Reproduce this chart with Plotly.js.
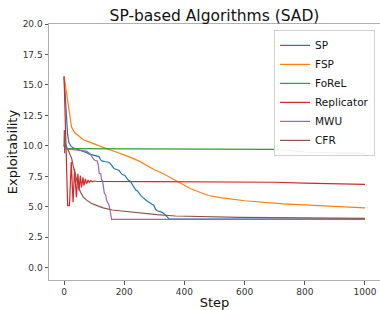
<!DOCTYPE html>
<html>
<head>
<meta charset="utf-8">
<script src="https://cdn.plot.ly/plotly-3.0.1.min.js"></script>
<style>
html,body{margin:0;padding:0;background:#fff;}
#chart{width:380px;height:310px;}
</style>
</head>
<body>
<div id="chart"></div>
<script>
const seriesNames = ["SP", "FSP", "FoReL", "Replicator", "MWU", "CFR"];
const seriesColors = ["#1f77b4", "#ff7f0e", "#2ca02c", "#d62728", "#9467bd", "#8c564b"];

const spSteps = [0,3,6,9,12,16,22,30,45,55,65,75,82,90,100,110,116,122,128,138,148,154,160,166,174,182,188,194,202,208,214,220,226,232,238,244,250,256,262,268,274,280,286,292,298,304,310,318,326,334,342,350,500,700,1000];
const spVals  = [15.7,14.6,13.2,11.9,10.9,10.3,10.0,9.85,9.72,9.65,9.52,9.45,9.35,9.3,9.24,9.2,9.12,8.85,8.75,8.7,8.66,8.55,8.35,8.15,8.06,8.0,7.8,7.65,7.58,7.4,7.18,7.1,6.85,6.6,6.4,6.3,6.08,5.9,5.78,5.6,5.5,5.42,5.3,5.22,5.15,4.8,4.68,4.6,4.55,4.4,4.15,3.99,3.99,3.99,3.99];

const fspSteps = [0,5,10,14,20,25,35,48,64,81,110,136,153,180,219,250,275,300,330,369,400,419,440,463,480,520,600,729,850,1000];
const fspVals  = [15.7,14.8,14.0,13.5,12.2,11.55,11.1,10.8,10.5,10.35,10.05,9.82,9.68,9.45,9.08,8.75,8.4,8.05,7.71,7.16,6.75,6.5,6.3,6.07,5.93,5.75,5.5,5.24,5.08,4.91];

const forelSteps = [0,2,5,100,400,650,700,730,760,800,850,900,1000];
const forelVals  = [10.1,9.8,9.77,9.76,9.76,9.75,9.72,9.67,9.6,9.5,9.45,9.42,9.38];

const repSteps = [0,3,6,9,12,18,21,24,27,30,35,41,46,50,54,58,63,66,71,75,80,84,89,94,100,110,300,600,700,800,900,1000];
const repVals  = [15.7,13.0,10.2,7.5,5.1,5.1,7.0,8.67,7.0,5.38,8.12,5.79,7.71,6.34,7.57,6.6,7.43,6.75,7.3,6.9,7.2,7.0,7.16,7.06,7.12,7.08,7.07,7.05,7.02,6.95,6.9,6.84];

const mwuSteps = [0,3,10,30,53,75,86,92,97,103,110,114,117,122,125,128,131,134,138,142,147,150,153,156,158,400,1000];
const mwuVals  = [10.0,9.85,9.75,9.7,9.68,9.57,9.36,9.1,8.95,8.8,8.78,8.4,7.75,7.7,7.2,7.15,6.6,6.1,6.0,5.5,5.25,5.1,4.7,4.3,3.98,3.97,3.97];

const cfrSteps = [0,1,2,3,4,6,10,15,20,25,30,36,42,48,55,64,75,90,110,130,160,190,236,286,308,370,474,585,800,1000];
const cfrVals  = [10.0,11.3,9.4,10.8,9.9,10.1,9.85,9.6,9.3,9.0,8.4,7.7,7.2,6.6,6.2,5.8,5.55,5.3,5.1,4.92,4.74,4.66,4.55,4.42,4.36,4.25,4.2,4.14,4.1,4.06];

const xTickVals = [0,200,400,600,800,1000];
const yTickVals = [0,2.5,5,7.5,10,12.5,15,17.5,20];

const allSteps = [spSteps, fspSteps, forelSteps, repSteps, mwuSteps, cfrSteps];
const allVals = [spVals, fspVals, forelVals, repVals, mwuVals, cfrVals];

const traces = seriesNames.map((n, i) => ({
  x: allSteps[i], y: allVals[i], name: n, type: "scatter", mode: "lines",
  line: {color: seriesColors[i], width: 1.2}
}));

const font = "DejaVu Sans, sans-serif";
const layout = {
  width: 380, height: 310,
  margin: {l: 49, r: 0, t: 24, b: 30},
  paper_bgcolor: "#fff", plot_bgcolor: "#fff",
  font: {family: font, color: "#262626", size: 9},
  showlegend: true,
  title: {text: "SP-based Algorithms (SAD)", font: {family: font, size: 15.5, color: "#111"},
          x: 0.5, xref: "paper", xanchor: "center", y: 0.95, yref: "container", yanchor: "middle"},
  xaxis: {
    range: [-50, 1050], tickvals: xTickVals, ticktext: xTickVals.map(String),
    showgrid: false, zeroline: false, showline: true, mirror: true, linecolor: "#b0b0b0", linewidth: 1,
    ticks: "outside", ticklen: 3.5, tickcolor: "#555", tickwidth: 1,
    tickfont: {family: font, size: 9, color: "#333"},
    title: {text: "Step", font: {family: font, size: 13, color: "#111"}, standoff: 3},
    automargin: false
  },
  yaxis: {
    range: [-1, 20], tickvals: yTickVals, ticktext: yTickVals.map(v => v.toFixed(1)),
    showgrid: false, zeroline: false, showline: true, linecolor: "#b0b0b0", linewidth: 1,
    ticks: "outside", ticklen: 3.5, tickcolor: "#555", tickwidth: 1,
    tickfont: {family: font, size: 9, color: "#333"},
    title: {text: "Exploitability", font: {family: font, size: 13, color: "#111"}, standoff: 2},
    automargin: false
  },
  legend: {
    x: 0.985, y: 0.977, xanchor: "right", yanchor: "top", xref: "paper", yref: "paper",
    bgcolor: "rgba(255,255,255,0.9)", bordercolor: "#d0d0d0", borderwidth: 1,
    font: {family: font, size: 10.5, color: "#111"}, tracegroupgap: 0, itemwidth: 30
  }
};

Plotly.newPlot("chart", traces, layout, {displayModeBar: false, staticPlot: true});
</script>
</body>
</html>
